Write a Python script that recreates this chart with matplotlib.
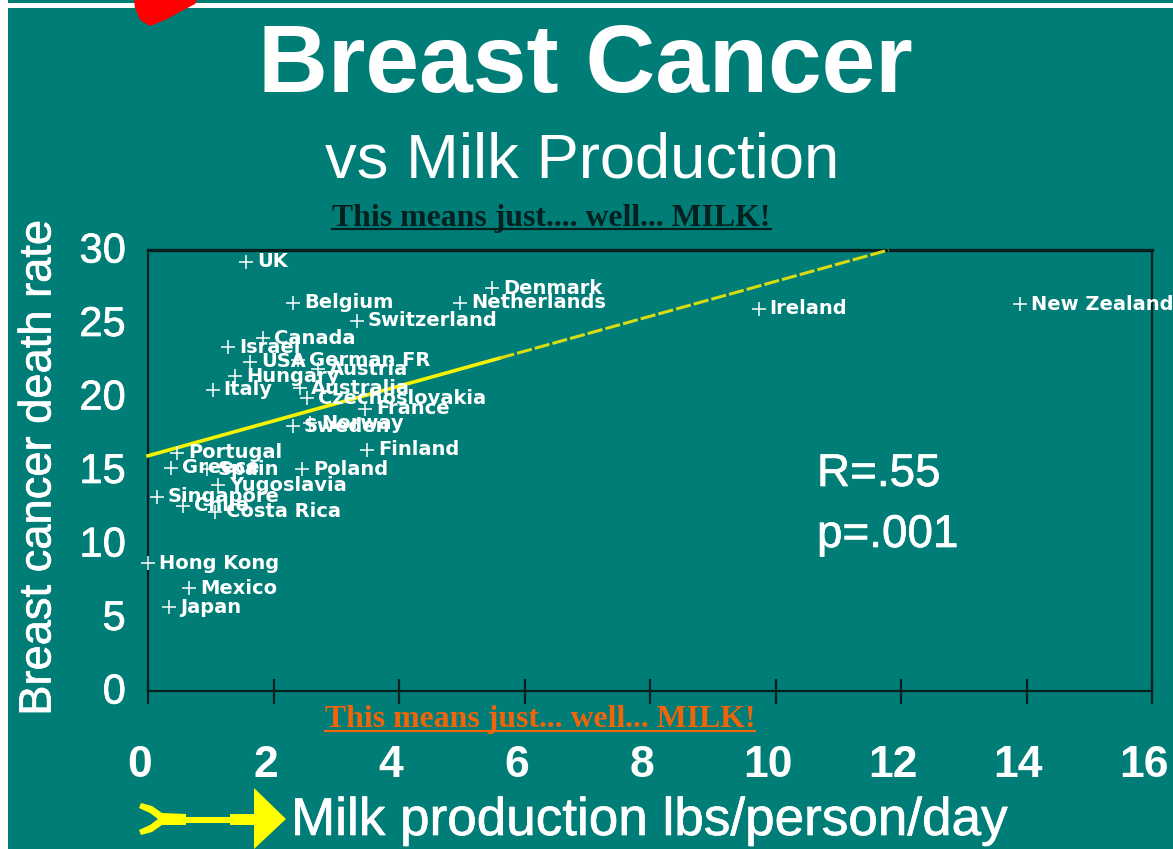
import matplotlib
matplotlib.use("Agg")
import matplotlib.pyplot as plt
import matplotlib.patheffects as pe
from matplotlib.patches import Polygon, Rectangle
from matplotlib.transforms import ScaledTranslation

countries = ["UK", "Belgium", "Switzerland", "Denmark", "Netherlands", "Ireland", "New Zealand",
             "Canada", "Israel", "USA", "German FR", "Austria", "Hungary", "Italy", "Australia",
             "Czechoslovakia", "France", "Sweden", "Norway", "Finland", "Portugal", "Greece",
             "Spain", "Poland", "Yugoslavia", "Singapore", "Chile", "Costa Rica", "Hong Kong",
             "Mexico", "Japan"]
milk = [1.56, 2.31, 3.33, 5.48, 4.98, 9.73, 13.9, 1.83, 1.27, 1.62, 2.39, 2.71, 1.39, 1.03, 2.42,
        2.53, 3.46, 2.31, 2.58, 3.49, 0.47, 0.37, 0.94, 2.45, 1.12, 0.14, 0.56, 1.07, 0.0, 0.65, 0.33]
death_rate = [29.2, 26.4, 25.2, 27.4, 26.4, 26.0, 26.3, 24.0, 23.4, 22.4, 22.5, 21.9, 21.4, 20.5, 20.6,
              19.9, 19.2, 18.0, 18.2, 16.4, 16.2, 15.2, 15.1, 15.1, 14.0, 13.2, 12.6, 12.2, 8.7, 7.0, 5.7]
trend_solid_x = [0, 5.6]
trend_solid_y = [16.0, 22.64]
trend_dash_x = [5.6, 11.8]
trend_dash_y = [22.64, 30.0]
x_ticks = [0, 2, 4, 6, 8, 10, 12, 14, 16]
y_ticks = [0, 5, 10, 15, 20, 25, 30]

W, H = 1173, 849
TEAL = "#007D77"
DARK = "#06201F"
SANS = "Liberation Sans"
SERIF = "Liberation Serif"
HEAVY = [pe.withStroke(linewidth=0.5, foreground="white")]

fig = plt.figure(figsize=(W / 100, H / 100), dpi=100, facecolor=TEAL)
fx = lambda x: x / W
fy = lambda y: 1 - y / H


def ftext(x, y, s, **kw):
    kw.setdefault("color", "white")
    kw.setdefault("family", SANS)
    return fig.text(fx(x), fy(y), s, **kw)


def fpoly(pts, color):
    fig.add_artist(Polygon([(fx(a), fy(b)) for a, b in pts], closed=True, color=color,
                           transform=fig.transFigure, lw=0))


# white frame strips and red blob
fig.add_artist(Rectangle((0, 0), fx(8), 1, color="white", transform=fig.transFigure, lw=0))
fig.add_artist(Rectangle((0, fy(8)), 1, 5 / H, color="white", transform=fig.transFigure, lw=0))
fpoly([(134, 0), (135, 8), (140, 20), (150, 26), (165, 20), (180, 12), (195, 4), (197, 0)], "#FF0000")

ax = fig.add_axes([fx(148), fy(691), (1152 - 148) / W, (691 - 250) / H], facecolor=TEAL)
ax.set_xlim(0, 16)
ax.set_ylim(0, 30)
for s in ax.spines.values():
    s.set_color(DARK)
    s.set_linewidth(1.6)
ax.spines["top"].set_linewidth(2.4)

ax.plot(trend_solid_x, trend_solid_y, color="#F4F400", lw=2.6, zorder=3, clip_on=False)
ax.plot(trend_dash_x, trend_dash_y, color="#D8DC10", lw=2.2, ls=(0, (5, 1)), zorder=3, clip_on=False)
ax.plot(milk, death_rate, ls="none", marker="+", ms=10.5, mew=1.1, color="white", clip_on=False, zorder=4)
for name, a, b in zip(countries, milk, death_rate):
    ax.annotate(name, (a, b), xytext=(8, 0), textcoords="offset points", color="white",
                family="DejaVu Sans", weight="bold", fontsize=14, va="center", ha="left",
                annotation_clip=False, zorder=5)

ax.set_xticks(x_ticks)
ax.set_yticks(y_ticks)
ax.tick_params(axis="x", direction="inout", length=18, width=1.6, color=DARK,
               labelsize=32, labelcolor="white", pad=30)
ax.tick_params(axis="y", length=0, labelsize=30, labelcolor="white", pad=16)
xoff = ScaledTranslation(-8 / 100, 0, fig.dpi_scale_trans)
yoff = ScaledTranslation(0, 3 / 100, fig.dpi_scale_trans)
for lab in ax.get_xticklabels():
    lab.set_family(SANS)
    lab.set_weight("bold")
    lab.set_transform(lab.get_transform() + xoff)
for lab in ax.get_yticklabels():
    lab.set_family(SANS)
    lab.set_path_effects(HEAVY)
    lab.set_transform(lab.get_transform() + yoff)

ftext(585, 92, "Breast Cancer", fontsize=69.6, weight="bold", ha="center", va="baseline")
ftext(582, 178, "vs Milk Production", fontsize=45.6, ha="center", va="baseline")
ftext(551, 226, "This means just.... well... MILK!", fontsize=22.9, weight="bold", family=SERIF,
      color="#04211F", ha="center", va="baseline")
fig.add_artist(plt.Line2D([fx(332), fx(771)], [fy(229), fy(229)], color="#04211F", lw=1.6))
ftext(540, 727, "This means just... well... MILK!", fontsize=22.9, weight="bold", family=SERIF,
      color="#F0640A", ha="center", va="baseline")
fig.add_artist(plt.Line2D([fx(325), fx(755)], [fy(731), fy(731)], color="#F0640A", lw=1.6))
ftext(39, 468, "Breast cancer death rate", fontsize=32.6, rotation=90, ha="center", va="center",
      path_effects=HEAVY)
ftext(291, 835, "Milk production lbs/person/day", fontsize=38.2, ha="left", va="baseline",
      path_effects=HEAVY)
ftext(817, 486, "R=.55", fontsize=33, ha="left", va="baseline", path_effects=HEAVY)
ftext(817, 547, "p=.001", fontsize=33, ha="left", va="baseline", path_effects=HEAVY)

# yellow arrow
fpoly([(254, 788), (286, 819), (254, 849), (254, 825), (230, 825), (230, 823), (186, 823), (186, 825),
       (162, 825), (152, 832), (141, 835), (139, 830), (150, 825), (158, 819), (150, 813), (139, 808),
       (141, 803), (152, 806), (162, 813), (186, 814), (186, 817), (230, 817), (230, 814), (254, 814)],
      "#FFFF00")

fig.savefig("out.png", dpi=100, facecolor=TEAL)
